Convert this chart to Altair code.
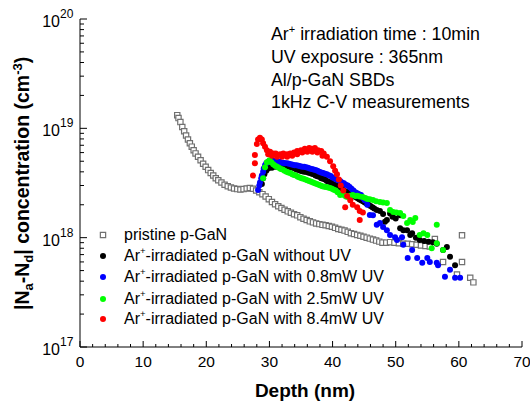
import altair as alt
import pandas as pd

FONT = "Liberation Sans"

# ---------------- data (depth in nm, concentration in 1e18 cm^-3) ----------------
pristine_x = [15.4, 15.6, 15.9, 16.2, 16.5, 16.8, 17.1, 17.4, 17.7, 18.0, 18.3, 18.7, 19.1, 19.5,
              19.9, 20.3, 20.7, 21.1, 21.5, 21.9, 22.4, 22.9, 23.4, 23.9, 24.4, 24.9, 25.4, 25.9,
              26.4, 26.9, 27.4, 27.9, 28.4, 28.9, 29.4, 29.9, 30.4, 30.9, 31.4, 31.9, 32.4, 32.9,
              33.4, 33.9, 34.4, 34.9, 35.4, 35.9, 36.4, 36.9, 37.4, 37.9, 38.4, 38.9, 39.4, 39.9,
              40.4, 40.9, 41.4, 41.9, 42.4, 42.9, 43.4, 43.9, 44.4, 44.9, 45.4, 45.9, 46.4, 46.9,
              47.4, 47.9, 48.5, 49.1, 49.8, 50.5, 51.2, 51.9, 52.6, 53.3, 54.0, 54.7, 55.4, 56.2,
              57.5, 59.7, 60.5, 60.5, 61.8, 62.3]
pristine_y = [13.2, 12.4, 11.4, 10.3, 9.4, 8.6, 7.9, 7.3, 6.8, 6.3, 5.9, 5.5, 5.1, 4.75,
              4.45, 4.15, 3.9, 3.7, 3.5, 3.35, 3.2, 3.05, 2.95, 2.88, 2.82, 2.78, 2.76, 2.78,
              2.82, 2.85, 2.8, 2.7, 2.6, 2.5, 2.38, 2.25, 2.12, 2.02, 1.94, 1.87, 1.8, 1.74,
              1.69, 1.64, 1.6, 1.54, 1.49, 1.45, 1.41, 1.38, 1.35, 1.33, 1.31, 1.3, 1.28, 1.26,
              1.23, 1.2, 1.18, 1.16, 1.13, 1.1, 1.08, 1.06, 1.04, 1.02, 1.0, 0.98, 0.96, 0.94,
              0.92, 0.9, 0.9, 0.91, 0.9, 0.89, 0.88, 0.88, 0.87, 0.86, 0.85, 0.84, 0.83, 0.97,
              0.6, 0.46, 1.05, 0.6, 0.43, 0.39]

black_x = [28.8, 29.0, 29.2, 29.5, 29.8, 30.1, 30.4, 30.7, 31.0, 31.3, 31.6, 31.9, 32.2, 32.5,
           32.8, 33.1, 33.4, 33.7, 34.0, 34.3, 34.6, 34.9, 35.2, 35.5, 35.8, 36.1, 36.4, 36.7,
           37.0, 37.3, 37.6, 37.9, 38.2, 38.5, 38.8, 39.1, 39.4, 39.7, 40.0, 40.3, 40.6, 40.9,
           41.2, 41.5, 41.8, 42.1, 42.4, 42.7, 43.0, 43.3, 43.6, 43.9, 44.2, 44.5, 44.8, 45.1,
           45.4, 45.7, 46.0, 46.3, 46.6, 47.0, 47.5, 48.0, 48.3, 48.6, 49.1, 49.5, 50.0, 50.7,
           50.7, 51.2, 51.8, 52.3, 52.6, 53.2, 53.8, 54.5, 55.2, 55.9, 56.5, 57.5, 58.1, 58.6,
           59.4]
black_y = [3.1, 3.5, 3.8, 4.1, 4.3, 4.4, 4.35, 4.5, 4.45, 4.6, 4.5, 4.6, 4.55, 4.5,
           4.55, 4.45, 4.4, 4.35, 4.3, 4.2, 4.15, 4.1, 4.05, 4.0, 4.0, 3.95, 3.9, 3.85,
           3.8, 3.7, 3.65, 3.6, 3.5, 3.45, 3.4, 3.3, 3.25, 3.2, 3.1, 3.05, 3.0, 2.9,
           2.85, 2.8, 2.7, 2.65, 2.6, 2.5, 2.45, 2.4, 2.35, 2.3, 2.25, 2.2, 2.15, 2.1,
           2.05, 2.0, 1.95, 1.9, 1.85, 1.79, 1.75, 1.65, 1.4, 1.45, 1.66, 1.55, 1.5, 1.6,
           1.22, 1.17, 1.17, 1.06, 1.1, 1.0, 0.95, 0.93, 0.92, 0.91, 0.88, 0.77, 0.82, 0.67,
           0.56]

blue_x = [28.2, 28.4, 28.5, 28.7, 28.8, 29.0, 29.1, 29.3, 29.5, 29.8, 30.1, 30.4, 30.7, 31.0,
          31.3, 31.6, 31.9, 32.2, 32.5, 32.8, 33.1, 33.4, 33.7, 34.0, 34.3, 34.6, 34.9, 35.2,
          35.5, 35.8, 36.1, 36.4, 36.7, 37.0, 37.3, 37.6, 37.9, 38.2, 38.5, 38.8, 39.1, 39.4,
          39.7, 40.0, 40.3, 40.6, 40.9, 41.2, 41.5, 41.8, 42.1, 42.4, 42.7, 43.0, 43.3, 43.6,
          43.9, 44.2, 44.5, 44.8, 45.1, 45.5, 45.9, 46.4, 47.0, 47.5, 48.0, 48.6, 49.1, 49.9,
          50.2, 51.0, 51.2, 51.9, 52.6, 53.4, 54.2, 55.0, 55.4, 56.5, 56.7, 57.8, 58.6, 59.4,
          60.2]
blue_y = [2.73, 3.0, 3.2, 3.5, 3.7, 4.0, 4.3, 4.6, 4.8, 4.95, 5.0, 4.95, 5.05, 4.95,
          4.9, 4.95, 4.85, 4.85, 4.8, 4.8, 4.75, 4.7, 4.65, 4.6, 4.6, 4.55, 4.5, 4.45,
          4.45, 4.4, 4.35, 4.3, 4.25, 4.2, 4.15, 4.1, 4.0, 3.95, 3.9, 3.85, 3.8, 3.72,
          3.66, 3.55, 3.5, 3.4, 3.35, 3.3, 3.2, 3.15, 3.05, 3.0, 2.9, 2.8, 2.7, 2.6,
          2.55, 2.5, 2.45, 2.3, 2.2, 2.0, 1.61, 1.6, 1.31, 1.36, 1.25, 1.17, 1.06, 1.01,
          0.95, 1.01, 0.86, 0.65, 0.77, 0.65, 0.59, 0.65, 0.6, 0.59, 0.56, 0.44, 0.51, 0.43,
          0.43]

green_x = [29.0, 29.3, 29.6, 30.0, 30.3, 30.6, 30.9, 31.2, 31.5, 31.8, 32.1, 32.4, 32.7, 33.0,
           33.3, 33.6, 33.9, 34.2, 34.5, 34.8, 35.1, 35.4, 35.7, 36.0, 36.3, 36.6, 36.9, 37.2,
           37.5, 37.8, 38.1, 38.4, 38.7, 39.0, 39.3, 39.6, 39.9, 40.2, 40.5, 40.8, 41.2, 41.5,
           41.8, 42.1, 42.4, 42.8, 43.2, 43.6, 43.9, 44.3, 44.8, 45.2, 45.5, 45.9, 46.4, 46.9,
           47.5, 48.0, 48.6, 49.1, 49.6, 50.1, 50.7, 51.2, 51.8, 52.3, 52.7, 53.1, 53.8, 54.4,
           55.0, 55.7, 56.5, 56.5, 57.5]
green_y = [3.5, 4.4, 4.9, 5.1, 4.9, 4.7, 4.55, 4.45, 4.35, 4.25, 4.2, 4.1, 4.0, 3.95,
           3.9, 3.8, 3.75, 3.7, 3.6, 3.55, 3.5, 3.45, 3.4, 3.35, 3.3, 3.25, 3.2, 3.15,
           3.1, 3.05, 3.0, 2.95, 2.92, 2.9, 2.88, 2.85, 2.8, 2.75, 2.7, 2.6, 2.45, 2.5,
           2.45, 2.38, 2.36, 2.42, 2.46, 2.4, 2.42, 2.38, 2.36, 2.3, 2.26, 2.25, 2.21, 2.15,
           2.12, 2.1, 2.08, 1.79, 1.72, 1.7, 1.68, 1.58, 1.36, 1.45, 1.39, 1.51, 1.06, 1.1,
           1.06, 0.8, 1.31, 0.89, 0.77]

red_x = [27.4, 27.7, 27.7, 28.0, 28.2, 28.5, 28.8, 29.0, 29.3, 29.6, 30.1, 30.6, 31.0, 31.7,
         32.2, 32.8, 33.3, 33.9, 34.4, 35.0, 35.6, 36.3, 36.7, 37.2, 37.7, 38.2, 38.6, 39.1,
         39.6, 40.1, 40.4, 40.7, 41.0, 41.3, 41.7, 42.3, 42.0, 42.8, 43.2, 43.9, 44.3, 44.8,
         44.3, 29.8, 30.4, 31.2, 32.0, 32.8, 33.6, 34.4, 35.2, 36.0, 36.8, 37.6, 38.4]
red_y = [3.7, 4.8, 5.7, 7.2, 7.9, 8.2, 7.9, 7.3, 6.8, 6.3, 6.1, 5.9, 5.9, 5.8,
         5.9, 5.8, 5.9, 6.0, 6.2, 6.3, 6.5, 6.6, 6.5, 6.6, 6.3, 6.2, 5.9, 5.5,
         5.0, 4.5, 4.1, 3.8, 3.4, 3.0, 2.7, 2.4, 1.9, 2.2, 2.0, 1.9, 1.75, 1.7,
         1.45, 5.8, 5.6, 5.5, 5.5, 5.5, 5.6, 5.8, 6.0, 6.1, 6.1, 6.0, 5.6]

x_tick_labels = [0, 10, 20, 30, 40, 50, 60, 70]
y_tick_values = [1e17, 1e18, 1e19, 1e20]
y_tick_exps = ["17", "18", "19", "20"]

legend_labels = ["pristine p-GaN",
                 "-irradiated p-GaN without UV",
                 "-irradiated p-GaN with 0.8mW UV",
                 "-irradiated p-GaN with 2.5mW UV",
                 "-irradiated p-GaN with 8.4mW UV"]
series_colors = ["#000000", "#0000ff", "#00ff00", "#ff0000"]

info_lines = ["irradiation time : 10min", "UV exposure : 365nm", "Al/p-GaN SBDs",
              "1kHz C-V measurements"]

# ---------------- helpers ----------------
W, H = 442, 328
xs = alt.Scale(domain=[0, 70], nice=False, zero=False)
ys = alt.Scale(type="log", domain=[1e17, 1e20], nice=False)
ONE = pd.DataFrame({"k": [0]})


def frame(xv, yv):
    return pd.DataFrame({"depth": xv, "conc": [v * 1e18 for v in yv]})


def enc_xy():
    return dict(x=alt.X("depth:Q", scale=xs, axis=None),
                y=alt.Y("conc:Q", scale=ys, axis=None))


def txt(text, x, y, size, weight="normal", align="left", baseline="alphabetic",
        angle=0, dx=0, dy=0):
    return alt.Chart(ONE).mark_text(
        font=FONT, fontSize=size, fontWeight=weight, align=align, baseline=baseline,
        angle=angle, dx=dx, dy=dy, color="black"
    ).encode(x=alt.value(x), y=alt.value(y), text=alt.value(text))


layers = []

# data
layers.append(alt.Chart(frame(pristine_x, pristine_y)).mark_square(
    size=28, color="white", stroke="#707070", strokeWidth=1.2, opacity=1).encode(**enc_xy()))
for xv, yv, col in [(black_x, black_y, series_colors[0]), (blue_x, blue_y, series_colors[1]),
                    (green_x, green_y, series_colors[2]), (red_x, red_y, series_colors[3])]:
    layers.append(alt.Chart(frame(xv, yv)).mark_circle(size=36, color=col, opacity=1)
                  .encode(**enc_xy()))

# axis lines
layers.append(alt.Chart(ONE).mark_rule(color="black", strokeWidth=1).encode(
    x=alt.value(0), x2=alt.value(W), y=alt.value(H)))
layers.append(alt.Chart(ONE).mark_rule(color="black", strokeWidth=1).encode(
    x=alt.value(0), y=alt.value(0), y2=alt.value(H)))

# x ticks (inward)
x_major = pd.DataFrame({"v": x_tick_labels})
x_minor = pd.DataFrame({"v": [v for v in range(0, 71, 2) if v % 10 != 0]})
layers.append(alt.Chart(x_major).mark_rule(color="black").encode(
    x=alt.X("v:Q", scale=xs, axis=None), y=alt.value(H), y2=alt.value(H - 6)))
layers.append(alt.Chart(x_minor).mark_rule(color="black").encode(
    x=alt.X("v:Q", scale=xs, axis=None), y=alt.value(H), y2=alt.value(H - 3)))

# y ticks (inward)
y_major = pd.DataFrame({"v": y_tick_values})
y_minor = pd.DataFrame({"v": [m * 10 ** e for e in (17, 18, 19) for m in range(2, 10)]})
layers.append(alt.Chart(y_major).mark_rule(color="black").encode(
    y=alt.Y("v:Q", scale=ys, axis=None), x=alt.value(0), x2=alt.value(7)))
layers.append(alt.Chart(y_minor).mark_rule(color="black").encode(
    y=alt.Y("v:Q", scale=ys, axis=None), x=alt.value(0), x2=alt.value(4)))

# x tick labels
layers.append(alt.Chart(x_major).mark_text(font=FONT, fontSize=15.5, color="black",
                                            align="center", baseline="alphabetic").encode(
    x=alt.X("v:Q", scale=xs, axis=None), y=alt.value(H + 20), text="v:N"))

# y tick labels 10^n
ylab = pd.DataFrame({"v": y_tick_values, "e": y_tick_exps})
layers.append(alt.Chart(ylab).mark_text(font=FONT, fontSize=16, color="black",
                                         align="right", baseline="middle", dy=3).encode(
    y=alt.Y("v:Q", scale=ys, axis=None), x=alt.value(-20), text=alt.value("10")))
layers.append(alt.Chart(ylab).mark_text(font=FONT, fontSize=12, color="black",
                                         align="left", baseline="middle", dy=-5).encode(
    y=alt.Y("v:Q", scale=ys, axis=None), x=alt.value(-20), text="e:N"))

# x title
layers.append(txt("Depth (nm)", W / 2 + 4, H + 50, 19, weight="bold", align="center"))

# y title (rotated, built of pieces)
T, S = 19.5, 13
ty0, tx0 = 291, -51
pieces = [("|N", T, 0, 0), ("a", S, 19.5, 4), ("-N", T, 26.8, 0), ("d", S, 47.3, 4),
          ("| concentration (cm", T, 55.3, 0), ("-3", S, 235.2, -7), (")", T, 246.7, 0)]
for t, sz, off, dyy in pieces:
    layers.append(txt(t, tx0, ty0, sz, weight="bold", angle=270, dx=off, dy=dyy))

# legend
LF = 16
leg_y = [216, 237, 258, 280, 300]
layers.append(alt.Chart(ONE).mark_square(size=28, color="white", stroke="#707070",
                                          strokeWidth=1.2, opacity=1).encode(
    x=alt.value(23), y=alt.value(leg_y[0])))
layers.append(txt(legend_labels[0], 44, leg_y[0], LF, baseline="middle"))
for i in range(4):
    yy = leg_y[i + 1]
    layers.append(alt.Chart(ONE).mark_circle(size=36, color=series_colors[i], opacity=1).encode(
        x=alt.value(23), y=alt.value(yy)))
    layers.append(txt("Ar", 44, yy, LF, baseline="middle"))
    layers.append(txt("+", 44 + LF, yy, 9.5, baseline="middle", dy=-5))
    layers.append(txt(legend_labels[i + 1], 44 + LF + 5.6, yy, LF, baseline="middle"))

# info block
IF = 17.8
info_y = [21, 44, 67, 89]
layers.append(txt("Ar", 191, info_y[0], IF))
layers.append(txt("+", 191 + IF, info_y[0], 11, dy=-7))
layers.append(txt(info_lines[0], 191 + IF + 6.4 + 0.278 * IF, info_y[0], IF))
for i in range(1, 4):
    layers.append(txt(info_lines[i], 191, info_y[i], IF))

chart = alt.layer(*layers).properties(
    width=W, height=H,
    autosize=alt.AutoSizeParams(type="none"),
    padding={"left": 80, "top": 19, "right": 8, "bottom": 55},
).configure_view(stroke=None)

chart.save("out.html", embed_options={"renderer": "svg", "actions": False})
